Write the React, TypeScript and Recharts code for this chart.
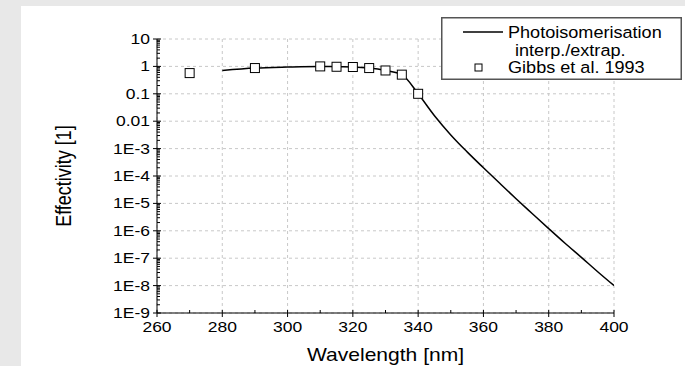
import React from 'react';
import { ComposedChart, Line, Scatter, XAxis, YAxis, CartesianGrid, Legend } from 'recharts';

// Interpolated / extrapolated photoisomerisation curve
const lineWavelengths = [280, 290, 300, 310, 315, 320, 325, 330, 335, 340, 345, 350, 355, 360, 365, 370, 375, 380, 385, 390, 395, 400];
const lineEffectivity = [0.71, 0.87, 0.95, 1.0, 0.97, 0.95, 0.87, 0.71, 0.5, 0.1, 0.0158, 3.16e-3, 7.6e-4, 2.0e-4, 5.4e-5, 1.48e-5, 4.2e-6, 1.2e-6, 3.5e-7, 1.07e-7, 3.2e-8, 1e-8];

// Gibbs et al. 1993 measured points
const gibbsWavelengths = [270, 290, 310, 315, 320, 325, 330, 335, 340];
const gibbsEffectivity = [0.57, 0.87, 1.0, 0.97, 0.95, 0.87, 0.71, 0.5, 0.1];

const xTicks = [260, 280, 300, 320, 340, 360, 380, 400];
const xMinorTicks = [270, 290, 310, 330, 350, 370, 390];
const yTicks = [1e-9, 1e-8, 1e-7, 1e-6, 1e-5, 1e-4, 1e-3, 0.01, 0.1, 1, 10];
const yTickLabels = ['1E-9', '1E-8', '1E-7', '1E-6', '1E-5', '1E-4', '1E-3', '0.01', '0.1', '1', '10'];
const yExponents = [-9, -8, -7, -6, -5, -4, -3, -2, -1, 0];
const yMantissas = [2, 3, 4, 5, 6, 7, 8, 9];
const yMinorTicks = yExponents.flatMap((e) => yMantissas.map((m) => m * Math.pow(10, e)));

const xAllTicks = [...xTicks, ...xMinorTicks].sort((a, b) => a - b);
const yAllTicks = [...yTicks, ...yMinorTicks].sort((a, b) => a - b);

const lineData = lineWavelengths.map((x, i) => ({ x, y: lineEffectivity[i] }));
const gibbsData = gibbsWavelengths.map((x, i) => ({ x, y: gibbsEffectivity[i] }));

const FONT = '"Liberation Sans", Arial, sans-serif';
const SX = 1.25;

const majorYIndex = (v: number) => yTicks.findIndex((t) => Math.abs(Math.log10(t) - Math.log10(v)) < 1e-6);

const XTick = (props: any) => {
  const { x, y, payload } = props;
  const isMajor = xTicks.includes(payload.value);
  if (!isMajor) {
    return <line x1={x} x2={x} y1={y} y2={y - 3} stroke="#000" strokeWidth={1} />;
  }
  return (
    <g>
      <line x1={x} x2={x} y1={y - 3} y2={y + 4} stroke="#000" strokeWidth={1} />
      <g transform={`translate(${x},${y + 9}) scale(${SX},1)`}>
        <text x={0} y={0} dy="0.71em" textAnchor="middle" fontSize={14} fill="#000">{payload.value}</text>
      </g>
    </g>
  );
};

const YTick = (props: any) => {
  const { x, y, payload } = props;
  const idx = majorYIndex(payload.value);
  if (idx < 0) {
    return <line x1={x} x2={x + 3} y1={y} y2={y} stroke="#000" strokeWidth={1} />;
  }
  return (
    <g>
      <line x1={x - 4} x2={x + 4} y1={y} y2={y} stroke="#000" strokeWidth={1} />
      <g transform={`translate(${x - 7},${y}) scale(${SX},1)`}>
        <text x={0} y={0} dy="0.355em" textAnchor="end" fontSize={14} fill="#000">{yTickLabels[idx]}</text>
      </g>
    </g>
  );
};

const XTitle = (props: any) => {
  const vb = props.viewBox || {};
  const cx = vb.x + vb.width / 2;
  const by = vb.y + 48;
  return (
    <g transform={`translate(${cx},${by}) scale(1.19,1)`}>
      <text x={0} y={0} textAnchor="middle" fontSize={17.7} fill="#000">Wavelength [nm]</text>
    </g>
  );
};

const YTitle = (props: any) => {
  const vb = props.viewBox || {};
  const cy = vb.y + vb.height / 2;
  return (
    <g transform={`translate(42,${cy}) scale(1.2,1) rotate(-90)`}>
      <text x={0} y={0} dy="0.355em" textAnchor="middle" fontSize={18} fill="#000">Effectivity [1]</text>
    </g>
  );
};

const LegendBox = () => (
  <svg width={241} height={63} style={{ display: 'block', fontFamily: FONT }}>
    <rect x={0.75} y={0.75} width={239.5} height={61.5} fill="#fff" stroke="#555" strokeWidth={1.5} />
    <line x1={22} x2={62} y1={15} y2={15} stroke="#000" strokeWidth={1.5} />
    <g transform="translate(67,21) scale(1.11,1)">
      <text x={0} y={0} fontSize={16.3} fill="#000">Photoisomerisation</text>
    </g>
    <g transform="translate(74,39) scale(1.11,1)">
      <text x={0} y={0} fontSize={16.3} fill="#000">interp./extrap.</text>
    </g>
    <rect x={34} y={47} width={7} height={7} fill="#fff" stroke="#000" strokeWidth={1} />
    <g transform="translate(67,56) scale(1.11,1)">
      <text x={0} y={0} fontSize={16.3} fill="#000">Gibbs et al. 1993</text>
    </g>
  </svg>
);

const SquareMarker = (props: any) => {
  const { cx, cy } = props;
  if (cx == null || cy == null) return <g />;
  return <rect x={cx - 4.5} y={cy - 4.5} width={9} height={9} fill="#fff" stroke="#000" strokeWidth={1} />;
};

export default function App() {
  return (
    <div style={{ position: 'fixed', left: 0, top: 0, width: 685, height: 366, background: '#e8e8e8', overflow: 'hidden' }}>
      <div style={{ position: 'absolute', left: 21, top: 6, width: 664, height: 360, background: '#fff' }}>
        <ComposedChart width={664} height={360} margin={{ top: 33, right: 71, left: 0, bottom: 0 }} style={{ fontFamily: FONT }}>
          <CartesianGrid stroke="#c8c8c8" strokeDasharray="3 3" horizontalValues={yTicks} verticalValues={xTicks} />
          <XAxis
            type="number"
            dataKey="x"
            domain={[260, 400]}
            ticks={xAllTicks}
            interval={0}
            allowDataOverflow
            height={53}
            tickSize={0}
            tickMargin={0}
            axisLine={{ stroke: '#000' }}
            tickLine={false}
            tick={XTick}
            label={XTitle}
          />
          <YAxis
            scale="log"
            domain={[1e-9, 10]}
            ticks={yAllTicks}
            interval={0}
            allowDataOverflow
            width={136}
            tickSize={0}
            tickMargin={0}
            axisLine={{ stroke: '#000' }}
            tickLine={false}
            tick={YTick}
            label={YTitle}
          />
          <Line
            data={lineData}
            dataKey="y"
            type="monotoneX"
            stroke="#000"
            strokeWidth={1.5}
            dot={false}
            isAnimationActive={false}
            legendType="line"
            name="Photoisomerisation interp./extrap."
          />
          <Scatter
            data={gibbsData}
            dataKey="y"
            shape={SquareMarker}
            isAnimationActive={false}
            name="Gibbs et al. 1993"
          />
          <Legend
            layout="vertical"
            align="center"
            verticalAlign="middle"
            wrapperStyle={{ position: 'absolute', left: 420, top: 11, width: 241, height: 63 }}
            content={() => <LegendBox />}
          />
        </ComposedChart>
      </div>
    </div>
  );
}
